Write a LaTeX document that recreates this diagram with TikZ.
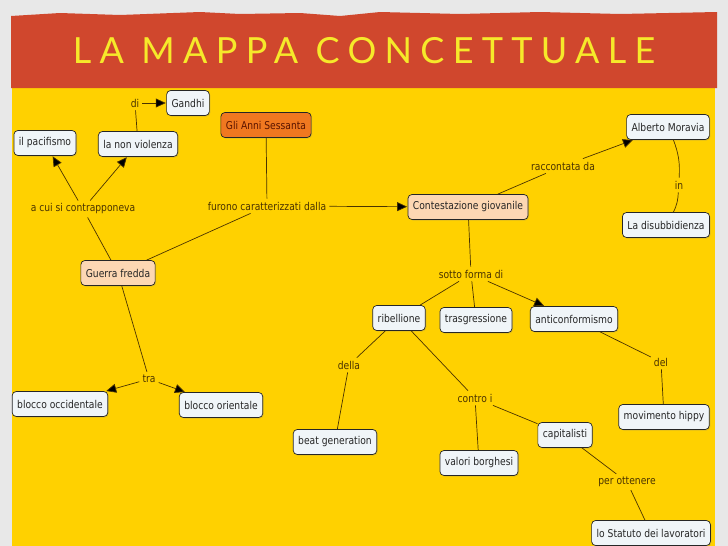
\documentclass[tikz,border=0pt]{standalone}
\usepackage{fontspec}
\setsansfont{DejaVu Sans}[FakeStretch=0.85]
\newfontfamily\titlefont{Lato}[LetterSpace=23]
\usetikzlibrary{arrows.meta,positioning,shadows}
\definecolor{pagegrey}{HTML}{E8E8E8}
\definecolor{bannerred}{HTML}{D0472D}
\definecolor{titleyellow}{HTML}{F6E92A}
\definecolor{mapyellow}{HTML}{FFD100}
\definecolor{boxfill}{HTML}{F0F5F8}
\definecolor{peachfill}{HTML}{FDD7B3}
\definecolor{orangefill}{HTML}{F07820}
\definecolor{linkbrown}{HTML}{4A3300}

\begin{document}
\begin{tikzpicture}[
  x=1pt, y=-1pt,
  >=Triangle,
  concept/.style={draw=black!85, fill=boxfill, rounded corners=4pt, line width=0.7pt,
    minimum height=25pt, inner xsep=5pt, text=black!85,
    font=\sffamily\fontsize{10.8}{12}\selectfont,
    drop shadow={shadow xshift=1pt, shadow yshift=-1pt, opacity=0.25}},
  link/.style={inner sep=3pt, text=linkbrown, font=\sffamily\fontsize{10.8}{12}\selectfont},
  conn/.style={draw=linkbrown, line width=0.7pt},
  arr/.style={conn, -{Triangle[length=10pt,width=9pt,fill=black]}, shorten >=0.5pt}
]
  \useasboundingbox (0,0) rectangle (728,546);

  % Slide background
  \fill[pagegrey] (0,0) rectangle (728,546);
  \fill[mapyellow] (12,88) rectangle (715,546);
  \fill[bannerred] (11,16) -- (60,13) -- (120,15) -- (200,12) -- (240,14) -- (300,13)
    -- (340,16) -- (380,12) -- (460,14) -- (540,12) -- (620,14) -- (717,12)
    -- (717,88) -- (11,88) -- cycle;
  \node[text=titleyellow, font=\titlefont\fontsize{36}{40}\selectfont] (title) at (364,51) {LA MAPPA CONCETTUALE};

  % Concepts
  \node[concept] (gandhi) at (188,103) {Gandhi};
  \node[concept] (pacifismo) at (45,143) {il pacifismo};
  \node[concept] (nonviolenza) at (138,144) {la non violenza};
  \node[concept, fill=orangefill, text={rgb,255:red,90;green,20;blue,0}] (anni) at (266,125) {Gli Anni Sessanta};
  \node[concept, fill=peachfill] (contestazione) at (468,207) {Contestazione giovanile};
  \node[concept, fill=peachfill] (guerra) at (118,273) {Guerra fredda};
  \node[concept] (moravia) at (668,127) {Alberto Moravia};
  \node[concept] (disubb) at (666,225) {La disubbidienza};
  \node[concept] (ribellione) at (399,318) {ribellione};
  \node[concept] (trasgr) at (476,320) {trasgressione};
  \node[concept] (anticonf) at (574,319) {anticonformismo};
  \node[concept] (hippy) at (664,417) {movimento hippy};
  \node[concept] (beat) at (335,442) {beat generation};
  \node[concept] (valori) at (479,463) {valori borghesi};
  \node[concept] (capitalisti) at (565,435) {capitalisti};
  \node[concept] (statuto) at (651,533) {lo Statuto dei lavoratori};
  \node[concept] (occid) at (60,404) {blocco occidentale};
  \node[concept] (orient) at (221,405) {blocco orientale};

  % Linking phrases
  \node[link] (di) at (135,103) {di};
  \node[link] (contrap) at (83,209) {a cui si contrapponeva};
  \node[link] (furono) at (267,206) {furono caratterizzati dalla};
  \node[link] (raccontata) at (563,166) {raccontata da};
  \node[link] (in) at (679,185) {in};
  \node[link] (sotto) at (471,274) {sotto forma di};
  \node[link] (del) at (661,362) {del};
  \node[link] (della) at (349,365) {della};
  \node[link] (contro) at (475,398) {contro i};
  \node[link] (per) at (627,482) {per ottenere};
  \node[link] (tra) at (149,379) {tra};

  % Connections
  \draw[conn] (nonviolenza) -- (di);
  \draw[arr] (di) -- (gandhi);
  \draw[conn] (guerra) -- (contrap);
  \draw[arr] (contrap) -- (pacifismo);
  \draw[arr] (contrap) -- (nonviolenza);
  \draw[conn] (anni) -- (furono);
  \draw[conn] (furono) -- (guerra);
  \draw[arr] (furono) -- (contestazione);
  \draw[conn] (contestazione) -- (raccontata);
  \draw[arr] (raccontata) -- (moravia);
  \draw[conn] (moravia) to[bend left=12] (in);
  \draw[conn] (in) to[bend left=12] (disubb);
  \draw[conn] (contestazione) -- (sotto);
  \draw[conn] (sotto) -- (ribellione);
  \draw[conn] (sotto) -- (trasgr);
  \draw[arr] (sotto) -- (anticonf);
  \draw[conn] (anticonf) -- (del);
  \draw[conn] (del) -- (hippy);
  \draw[conn] (ribellione) -- (della);
  \draw[conn] (della) -- (beat);
  \draw[conn] (ribellione) -- (contro);
  \draw[conn] (contro) -- (valori);
  \draw[conn] (contro) -- (capitalisti);
  \draw[conn] (capitalisti) -- (per);
  \draw[conn] (per) -- (statuto);
  \draw[conn] (guerra) -- (tra);
  \draw[arr] (tra) -- (occid);
  \draw[arr] (tra) -- (orient);
\end{tikzpicture}
\end{document}
